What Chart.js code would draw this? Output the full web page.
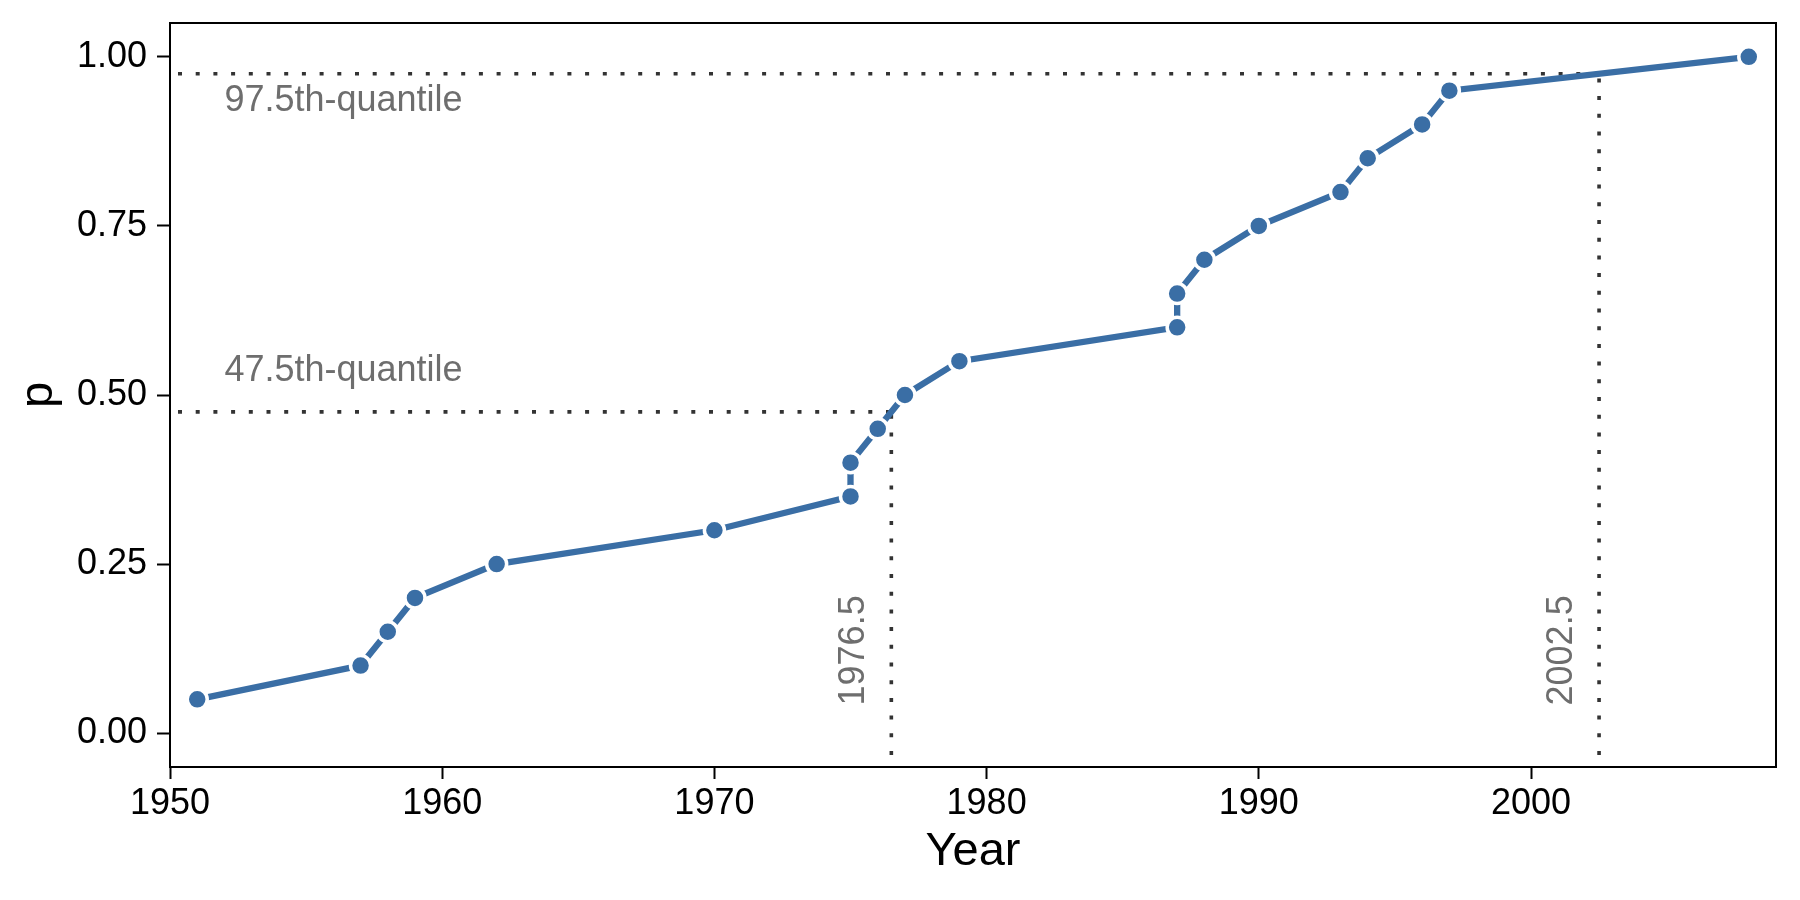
<!DOCTYPE html>
<html>
<head>
<meta charset="utf-8">
<script src="https://cdn.jsdelivr.net/npm/chart.js@4"></script>
<style>
  html, body { margin: 0; padding: 0; background: #ffffff; }
  #wrap { width: 1800px; height: 900px; }
</style>
</head>
<body>
<div id="wrap"><canvas id="c" width="1800" height="900"></canvas></div>
<script>
// ---- data ----
const years = [1951, 1957, 1958, 1959, 1962, 1970, 1975, 1975, 1976, 1977, 1979, 1987, 1987, 1988, 1990, 1993, 1994, 1996, 1997, 2008];
const pValues = [0.05, 0.10, 0.15, 0.20, 0.25, 0.30, 0.35, 0.40, 0.45, 0.50, 0.55, 0.60, 0.65, 0.70, 0.75, 0.80, 0.85, 0.90, 0.95, 1.00];
const quantileP = [0.475, 0.975];
const quantileYears = [1976.5, 2002.5];
const quantileLabels = ['47.5th-quantile', '97.5th-quantile'];
const xTicks = [1950, 1960, 1970, 1980, 1990, 2000];
const yTicks = [0.00, 0.25, 0.50, 0.75, 1.00];
const xRange = [1950, 2009];
const yRange = [-0.05, 1.05];

const FONT = '"Liberation Sans", Arial, Helvetica, sans-serif';
const LINE_BLUE = '#3a6ea5';
const DOT_COLOR = '#333333';
const NOTE_GRAY = '#6e6e6e';

const mainPoints = years.map((x, i) => ({ x: x, y: pValues[i] }));

const refDatasets = [];
quantileP.forEach((q, i) => {
  const yr = quantileYears[i];
  refDatasets.push({
    data: [{ x: xRange[0], y: q }, { x: yr, y: q }],
    borderColor: DOT_COLOR, borderWidth: 3.6, borderDash: [4, 13.7], borderDashOffset: -8, borderCapStyle: 'butt',
    pointRadius: 0, fill: false, tension: 0, order: 5
  });
  refDatasets.push({
    data: [{ x: yr, y: yRange[0] }, { x: yr, y: q }],
    borderColor: DOT_COLOR, borderWidth: 3.6, borderDash: [4, 13.7], borderDashOffset: -12, borderCapStyle: 'butt',
    pointRadius: 0, fill: false, tension: 0, order: 5
  });
});

const annotPlugin = {
  id: 'annot',
  afterDatasetsDraw(chart) {
    const { ctx, scales: { x, y } } = chart;
    ctx.save();
    ctx.fillStyle = NOTE_GRAY;
    ctx.font = '36px ' + FONT;
    ctx.textAlign = 'left';
    ctx.textBaseline = 'alphabetic';
    const dy = [0.045, -0.055];
    quantileLabels.forEach((t, i) => {
      ctx.fillText(t, x.getPixelForValue(1952), y.getPixelForValue(quantileP[i] + dy[i]));
    });
    quantileYears.forEach((v) => {
      ctx.save();
      ctx.translate(x.getPixelForValue(v - 1), y.getPixelForValue(0.041));
      ctx.rotate(-Math.PI / 2);
      ctx.fillText(String(v), 0, 0);
      ctx.restore();
    });
    ctx.restore();
  },
  afterDraw(chart) {
    const { ctx, chartArea } = chart;
    ctx.save();
    ctx.strokeStyle = '#000000';
    ctx.lineWidth = 2;
    ctx.strokeRect(chartArea.left, chartArea.top, chartArea.right - chartArea.left, chartArea.bottom - chartArea.top);
    ctx.restore();
  }
};

new Chart(document.getElementById('c'), {
  type: 'line',
  data: {
    datasets: [{
      data: mainPoints,
      borderColor: LINE_BLUE,
      borderWidth: 6.3,
      backgroundColor: LINE_BLUE,
      pointBackgroundColor: LINE_BLUE,
      pointBorderColor: '#ffffff',
      pointRadius: 10,
      pointBorderWidth: 3.5,
      tension: 0,
      fill: false,
      order: 0
    }].concat(refDatasets)
  },
  options: {
    responsive: false,
    animation: false,
    devicePixelRatio: 1,
    layout: { padding: { top: 23, right: 24, left: 0, bottom: 0 } },
    plugins: { legend: { display: false }, tooltip: { enabled: false } },
    scales: {
      x: {
        type: 'linear',
        min: xRange[0], max: xRange[1],
        afterFit(s) { s.height = 133; s.paddingLeft = 0; s.paddingRight = 0; },
        afterBuildTicks(s) { s.ticks = xTicks.map(v => ({ value: v })); },
        grid: { drawOnChartArea: false, drawTicks: true, tickLength: 12, tickWidth: 2, tickColor: '#000' },
        border: { display: true, color: '#000', width: 2 },
        ticks: { color: '#000', padding: 3, font: { family: FONT, size: 36 }, maxRotation: 0, callback: v => String(v) },
        title: { display: true, text: 'Year', color: '#000', font: { family: FONT, size: 47, lineHeight: 1.2 }, padding: { top: 0, bottom: 20 } }
      },
      y: {
        type: 'linear',
        min: yRange[0], max: yRange[1],
        afterFit(s) { s.width = 170; s.paddingTop = 0; s.paddingBottom = 0; },
        afterBuildTicks(s) { s.ticks = yTicks.map(v => ({ value: v })); },
        grid: { drawOnChartArea: false, drawTicks: true, tickLength: 13, tickWidth: 2, tickColor: '#000' },
        border: { display: true, color: '#000', width: 2 },
        ticks: { color: '#000', padding: 10, font: { family: FONT, size: 36 }, callback: v => Number(v).toFixed(2) },
        title: { display: true, text: 'p', color: '#000', font: { family: FONT, size: 47, lineHeight: 1.2 }, padding: { top: 11, bottom: 0 } }
      }
    }
  },
  plugins: [annotPlugin]
});
</script>
</body>
</html>
